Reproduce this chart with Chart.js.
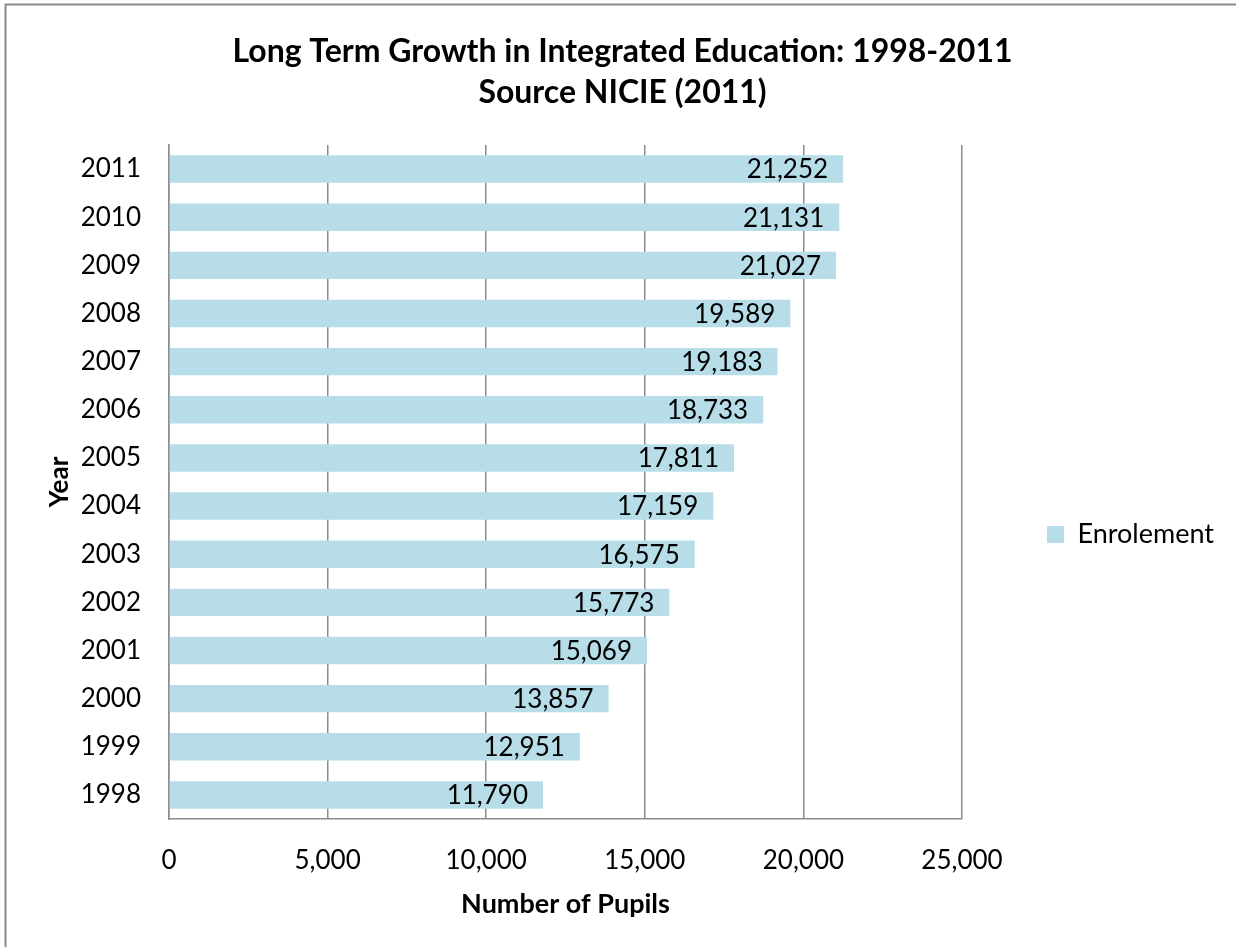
<!DOCTYPE html>
<html>
<head>
<meta charset="utf-8">
<script src="https://cdn.jsdelivr.net/npm/chart.js@4.4.1/dist/chart.umd.min.js"></script>
<style>
	html, body { margin: 0; padding: 0; background: #fff; overflow: hidden; }
	canvas { display: block; }
</style>
</head>
<body>
<canvas id="growthChart" width="1236" height="947"></canvas>
<script>
const years = ['1998', '1999', '2000', '2001', '2002', '2003', '2004', '2005', '2006', '2007', '2008', '2009', '2010', '2011'];
const enrolment = [11790, 12951, 13857, 15069, 15773, 16575, 17159, 17811, 18733, 19183, 19589, 21027, 21131, 21252];
const xTicks = [0, 5000, 10000, 15000, 20000, 25000];

const FONT = 'Lato, "Open Sans", sans-serif';
const GRID = '#8c8c8c';

// draws the value inside the end of each bar
const barLabels = {
	id: 'barLabels',
	afterDatasetsDraw(chart) {
		const ctx = chart.ctx;
		ctx.save();
		ctx.font = '26px ' + FONT;
		ctx.fillStyle = '#000';
		ctx.textAlign = 'right';
		ctx.textBaseline = 'middle';
		chart.getDatasetMeta(0).data.forEach((bar, i) => {
			const v = chart.data.datasets[0].data[i];
			ctx.fillText(v.toLocaleString('en-US'), bar.x - 15, bar.y + 1);
		});
		ctx.restore();
	}
};

// outer frame (only left and top edges are visible)
const frame = {
	id: 'frame',
	beforeDraw(chart) {
		const ctx = chart.ctx;
		ctx.save();
		ctx.strokeStyle = '#8a8a8a';
		ctx.lineWidth = 2;
		ctx.beginPath();
		ctx.moveTo(5.5, chart.height);
		ctx.lineTo(5.5, 4.5);
		ctx.lineTo(chart.width, 4.5);
		ctx.stroke();
		ctx.restore();
	}
};

new Chart(document.getElementById('growthChart'), {
	type: 'bar',
	data: {
		labels: years,
		datasets: [{
			label: 'Enrolement',
			data: enrolment,
			backgroundColor: '#b7dde8',
			borderWidth: 0,
			categoryPercentage: 1,
			barPercentage: 0.57
		}]
	},
	options: {
		indexAxis: 'y',
		responsive: false,
		animation: false,
		devicePixelRatio: 1,
		layout: { padding: { left: 21, right: 12, top: 0, bottom: 0 } },
		plugins: {
			title: {
				display: true,
				text: ['Long Term Growth in Integrated Education: 1998-2011', 'Source NICIE (2011)'],
				color: '#000',
				font: { family: FONT, size: 32, weight: 'bold', lineHeight: '41px' },
				padding: { top: 31, bottom: 32 }
			},
			legend: {
				position: 'right',
				align: 'center',
				title: { display: true, text: '', padding: 0, font: { size: 10, lineHeight: '122px' } },
				labels: {
					color: '#000',
					font: { family: FONT, size: 27 },
					boxWidth: 17,
					boxHeight: 17,
					padding: 85
				}
			},
			tooltip: { enabled: false }
		},
		scales: {
			x: {
				min: 0,
				max: 25000,
				afterBuildTicks: scale => { scale.ticks = xTicks.map(v => ({ value: v })); },
				afterFit: scale => { scale.height = 128; },
				grid: { color: GRID, lineWidth: 1.5, drawTicks: false },
				border: { display: true, color: GRID, width: 1.5 },
				ticks: {
					color: '#000',
					padding: 26,
					font: { family: FONT, size: 26 },
					maxRotation: 0,
					callback: v => v.toLocaleString('en-US')
				},
				title: {
					display: true,
					text: 'Number of Pupils',
					color: '#000',
					font: { family: FONT, size: 27, weight: 'bold' },
					padding: { top: 0, bottom: 27 }
				}
			},
			y: {
				reverse: true,
				afterFit: scale => { scale.width = 169 - 21; },
				grid: { display: false, drawTicks: false },
				border: { display: true, color: GRID, width: 1.5 },
				ticks: {
					color: '#000',
					padding: 28,
					font: { family: FONT, size: 26 }
				},
				title: {
					display: true,
					text: 'Year',
					color: '#000',
					font: { family: FONT, size: 26, weight: 'bold' },
					padding: { top: 23, bottom: 0 }
				}
			}
		}
	},
	plugins: [frame, barLabels]
});
</script>
</body>
</html>
